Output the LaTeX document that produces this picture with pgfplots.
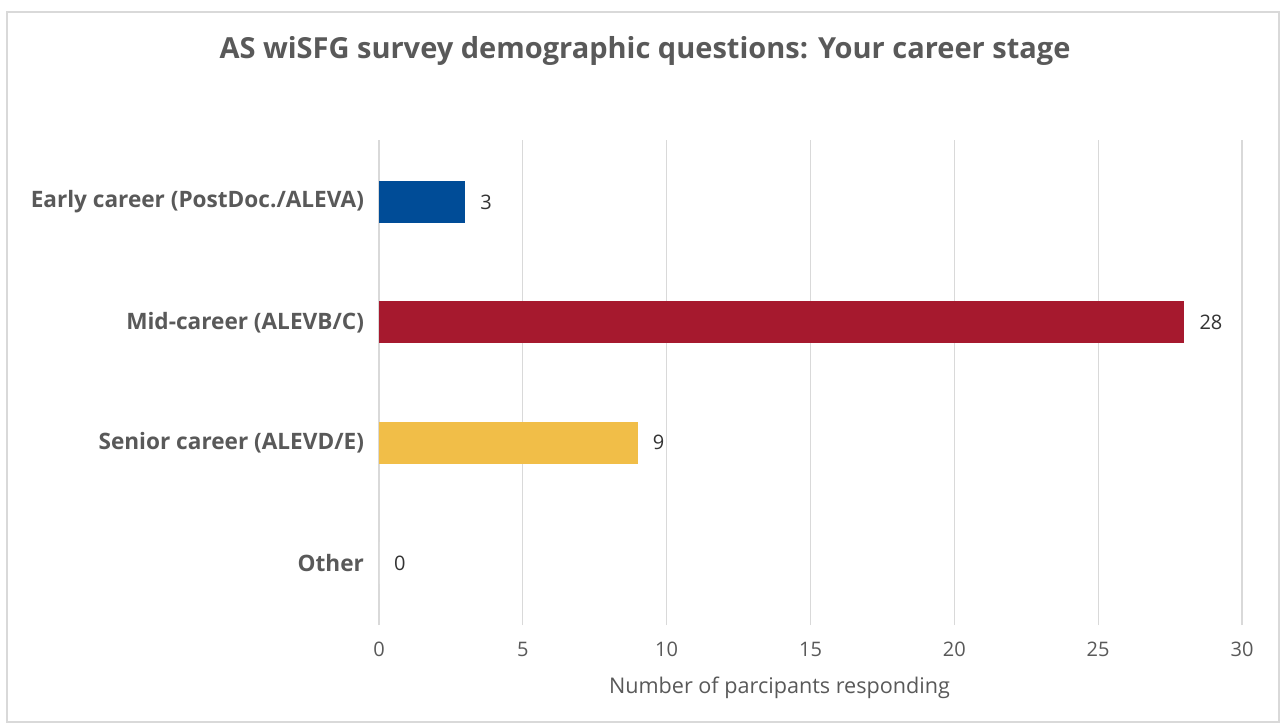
\documentclass[border=0pt]{standalone}
\usepackage{pgfplots}
\pgfplotsset{compat=1.18}
\usepackage{fontspec}
\setmainfont{Open Sans}
\definecolor{cblue}{RGB}{0,76,151}
\definecolor{cred}{RGB}{166,25,46}
\definecolor{cyel}{RGB}{241,190,72}
\definecolor{gridgray}{RGB}{217,217,217}
\definecolor{txt}{RGB}{89,89,89}
\begin{document}
\begin{tikzpicture}
\fill[white] (0pt,0pt) rectangle (641pt,362.5pt);
\draw[gridgray,line width=0.8pt] (3.5pt,1.5pt) rectangle (639.5pt,356.5pt);
\node[font=\bfseries\fontsize{14.5}{17}\selectfont,text=txt] at (322.5pt,337pt) {AS wiSFG survey demographic questions: Your career stage};
\begin{axis}[
  at={(189.5pt,50pt)}, anchor=south west,
  scale only axis, width=431.5pt, height=242.5pt,
  xmin=0, xmax=30, ymin=-0.515, ymax=3.515,
  xtick={0,5,...,30},
  ytick={0,1,2,3},
  yticklabels={Other,Senior career (ALEVD/E),Mid-career (ALEVB/C),Early career (PostDoc./ALEVA)},
  xmajorgrids, ymajorgrids=false, major grid style={draw=gridgray,line width=0.6pt},
  axis line style={draw=none},
  major tick length=0pt,
  tick label style={text=txt},
  xticklabel style={font=\fontsize{10}{12}\selectfont, yshift=-5pt},
  yticklabel style={font=\bfseries\fontsize{11.3}{13}\selectfont, xshift=-4pt},
  xlabel={Number of parcipants responding},
  xlabel style={font=\fontsize{10.8}{13}\selectfont, text=txt, yshift=-3pt, xshift=-15.5pt},
  /pgf/number format/assume math mode=true,
  xbar, bar shift=0pt, bar width=0.35,
  nodes near coords,
  every node near coord/.append style={font=\fontsize{10}{12}\selectfont, text=black!80, xshift=4pt},
  clip=false,
]
\addplot[fill=cblue, draw=none] coordinates {(3,3)};
\addplot[fill=cred, draw=none] coordinates {(28,2)};
\addplot[fill=cyel, draw=none] coordinates {(9,1)};
\addplot[fill=white, draw=none] coordinates {(0,0)};
\end{axis}
\end{tikzpicture}
\end{document}
